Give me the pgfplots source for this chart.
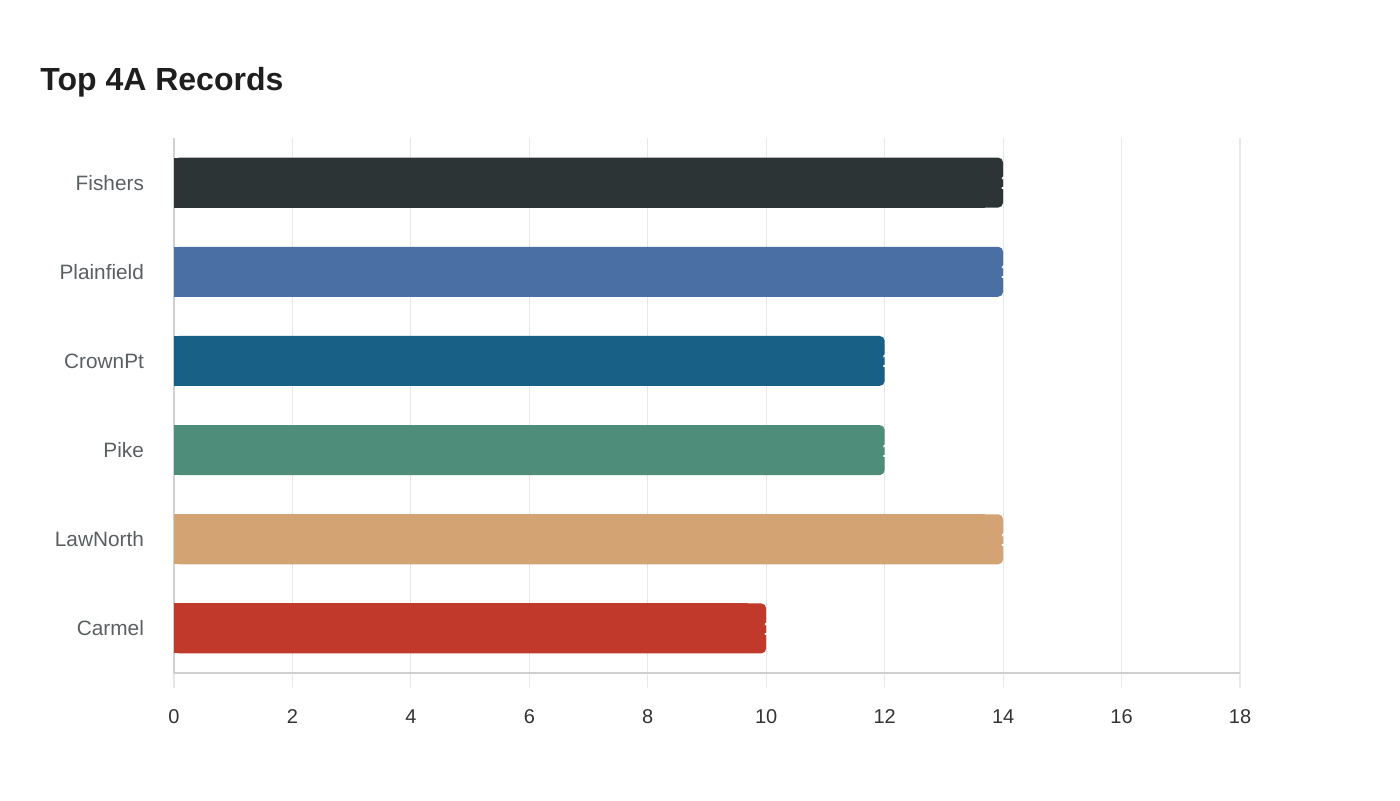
\documentclass[border=0pt]{standalone}
\usepackage{pgfplots}
\pgfplotsset{compat=1.18}
\usepackage{fontspec}
\setmainfont{Liberation Sans}
\definecolor{cFishers}{HTML}{2D3436}
\definecolor{cPlainfield}{HTML}{4A6FA5}
\definecolor{cCrown}{HTML}{186086}
\definecolor{cPike}{HTML}{4E8D7A}
\definecolor{cLaw}{HTML}{D4A373}
\definecolor{cCarmel}{HTML}{C0392B}
\definecolor{gridc}{HTML}{E6E6E6}
\definecolor{axisc}{HTML}{D0D0D0}
\definecolor{tickc}{HTML}{333333}
\definecolor{labc}{HTML}{5A5F62}
\definecolor{titlec}{HTML}{1E1E1E}
% one bar: rounded end plus a square body that hides the rounded left corners
\newcommand{\rbar}[3]{%
  \addplot[fill=#1, draw=none, rounded corners=2.5pt,
    nodes near coords, nodes near coords style={white, font=\bfseries\fontsize{10}{12}\selectfont, anchor=west, inner sep=0pt, xshift=-1.5pt},
    point meta=x] coordinates {(#2,#3)};
  \addplot[fill=#1, draw=none] coordinates {(#2-0.3,#3)};
}
\begin{document}
\begin{tikzpicture}
\path[use as bounding box] (0,0) rectangle (700pt,400pt);
\node[anchor=base west, font=\bfseries\fontsize{16}{19}\selectfont, text=titlec, inner sep=0pt]
  at (20pt,355pt) {Top 4A Records};
\begin{axis}[
  at={(87pt,63.5pt)}, anchor=south west,
  scale only axis, width=533pt, height=267.5pt,
  xbar, bar width=25pt, bar shift=0pt,
  xmin=0, xmax=18, ymin=-0.5, ymax=5.5,
  xtick={0,2,...,18},
  ytick={0,1,2,3,4,5},
  yticklabels={Carmel,LawNorth,Pike,CrownPt,Plainfield,Fishers},
  axis x line*=bottom, axis y line*=left,
  axis line style={draw=axisc, line width=0.6pt},
  xmajorgrids, grid style={draw=gridc, line width=0.6pt},
  tick align=outside, major tick length=7.5pt,
  xtick style={draw=gridc, line width=0.6pt},
  ytick style={draw=none},
  xticklabel style={text=tickc, font=\fontsize{10}{12}\selectfont, text height=1.6ex, text depth=0pt, anchor=north},
  yticklabel style={text=labc, font=\fontsize{10.4}{12}\selectfont},
  xticklabel shift=6pt,
  yticklabel shift=4pt,
  /pgf/number format/assume math mode=true,
  clip=false,
]
\draw[axisc, line width=0.6pt] (axis cs:0,-0.5) -- ++(0,-7.5pt);
\rbar{cFishers}{14}{5}
\rbar{cPlainfield}{14}{4}
\rbar{cCrown}{12}{3}
\rbar{cPike}{12}{2}
\rbar{cLaw}{14}{1}
\rbar{cCarmel}{10}{0}
\end{axis}
\end{tikzpicture}
\end{document}
